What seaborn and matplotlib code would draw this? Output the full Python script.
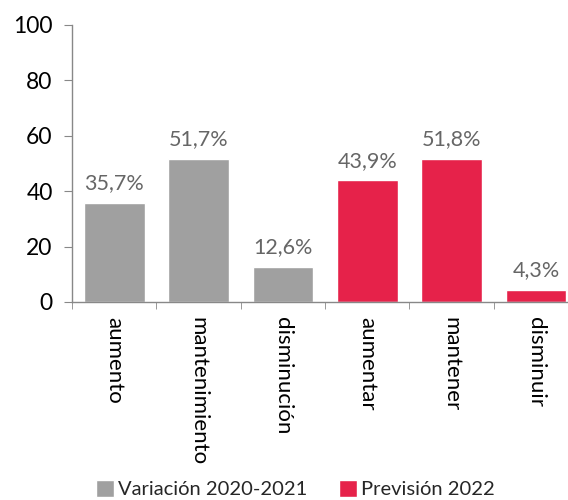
import matplotlib
matplotlib.use("Agg")
import matplotlib.pyplot as plt
from matplotlib.patches import Patch
from matplotlib.ticker import FixedLocator
import seaborn as sns
import pandas as pd

# chart data
categories = ["aumento", "mantenimiento", "disminución", "aumentar", "mantener", "disminuir"]
values = [35.7, 51.7, 12.6, 43.9, 51.8, 4.3]
groups = ["Variación 2020-2021"] * 3 + ["Previsión 2022"] * 3
group_colors = {"Variación 2020-2021": "#a0a0a0", "Previsión 2022": "#e6224a"}

df = pd.DataFrame({"categoria": categories, "valor": values, "grupo": groups})

sns.set_style("white")
plt.rcParams["font.family"] = ["Lato", "DejaVu Sans"]

fig = plt.figure(figsize=(5.68, 5.0), dpi=100)
ax = fig.add_axes([0.127, 0.396, 0.873, 0.554])

sns.barplot(data=df, x="categoria", y="valor", hue="grupo", palette=group_colors,
            dodge=False, width=0.72, saturation=1, legend=False, ax=ax)

# value labels
for cont in ax.containers:
    ax.bar_label(cont, labels=[f"{v:.1f}%".replace(".", ",") for v in cont.datavalues],
                 padding=7, fontsize=15.5, color="#666666")

ax.set_ylim(0, 100)
ax.set_yticks(range(0, 101, 20))
ax.set_xlim(-0.5, 5.38)
ax.set_xlabel("")
ax.set_ylabel("")

for side in ["top", "right"]:
    ax.spines[side].set_visible(False)
for side in ["left", "bottom"]:
    ax.spines[side].set_color("#888888")
    ax.spines[side].set_linewidth(1)

ax.tick_params(axis="y", direction="out", length=6, color="#888888", labelsize=16.5,
               labelcolor="black", pad=8, left=True)
ax.tick_params(axis="x", which="major", length=0, labelsize=16, labelcolor="black", pad=11)
ax.xaxis.set_minor_locator(FixedLocator([i - 0.5 for i in range(len(categories))]))
ax.tick_params(axis="x", which="minor", direction="out", length=5, color="#888888", bottom=True)
for lbl in ax.get_xticklabels():
    lbl.set_rotation(270)
    lbl.set_va("top")
    lbl.set_ha("center")

handles = [Patch(facecolor=c, label=g) for g, c in group_colors.items()]
fig.legend(handles=handles, loc="center", bbox_to_anchor=(0.52, 0.022), ncol=2,
           frameon=False, fontsize=14.5, handlelength=0.9, handleheight=0.9,
           handletextpad=0.2, columnspacing=1.6)

fig.savefig("out.png", dpi=100)
